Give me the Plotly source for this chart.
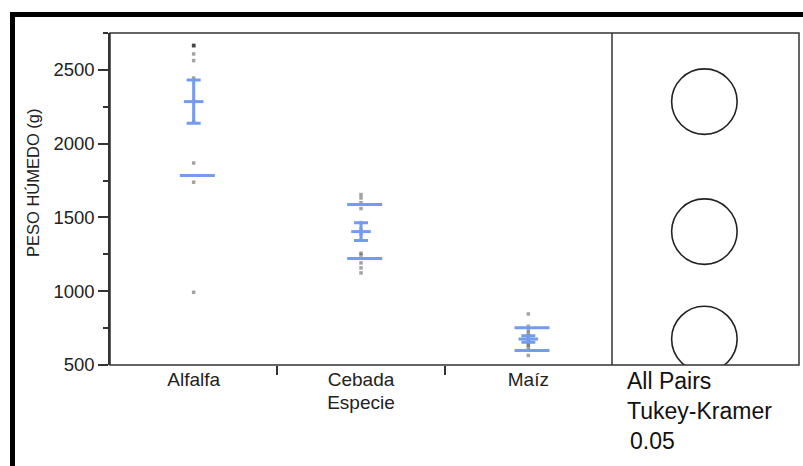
import plotly.graph_objects as go

# Peso húmedo por especie: observaciones individuales
categories = ["Alfalfa", "Cebada", "Maíz"]
alfalfa_pesos = [2665, 2665, 2665, 2665, 2608, 2563, 2445, 2290, 2150, 1869, 1739, 993]
cebada_pesos = [1655, 1632, 1600, 1560, 1465, 1420, 1385, 1345, 1258, 1245, 1192, 1158, 1124]
maiz_pesos = [846, 762, 735, 715, 700, 688, 676, 664, 650, 636, 622, 600, 565]

# Resumen por especie: media, error estándar y desviación estándar
means = [2285, 1404, 676]
std_err = [146, 60, 22]
std_dev = [501, 183, 77]

# Radio de los círculos de comparación (Tukey-Kramer, alfa 0.05), en gramos
circle_radius = [222, 222, 222]

y_ticks = [500, 1000, 1500, 2000, 2500]
y_range = [500, 2750]

W, H = 803, 466
L, R, T, B = 110, 4, 33, 101
plot_w = W - L - R
plot_h = H - T - B
split = (612 - L) / plot_w

BLUE = "rgb(115,155,242)"
FRAME = "#333333"
FONT = "Liberation Sans, Arial, Helvetica, sans-serif"


def px_x(px):
    return (px - L) / plot_w


def px_y(py):
    return (H - B - py) / plot_h


groups = [alfalfa_pesos, cebada_pesos, maiz_pesos]

fig = go.Figure()

# Puntos individuales
for i, vals in enumerate(groups):
    fig.add_trace(go.Scatter(
        x=[i] * len(vals), y=vals, mode="markers",
        marker=dict(symbol="square", size=3.5, color="rgba(50,50,50,0.45)",
                    line=dict(width=0)),
        showlegend=False, hoverinfo="y",
    ))

# Líneas de desviación estándar (media ± DE)
sd_x, sd_y = [], []
for i, (m, s) in enumerate(zip(means, std_dev)):
    sd_x += [i + 0.022, i + 0.022]
    sd_y += [m + s, m - s]
fig.add_trace(go.Scatter(
    x=sd_x, y=sd_y, mode="markers",
    marker=dict(symbol="line-ew", size=25, line=dict(width=3, color=BLUE)),
    showlegend=False, hoverinfo="y",
))

# Media con barras de error estándar
fig.add_trace(go.Scatter(
    x=list(range(len(categories))), y=means, mode="markers",
    marker=dict(symbol="line-ew", size=14, line=dict(width=3, color=BLUE)),
    error_y=dict(type="data", array=std_err, visible=True,
                 color=BLUE, thickness=3, width=7),
    showlegend=False, hoverinfo="y",
))

# Panel derecho: círculos de comparación
px_per_unit = plot_h / (y_range[1] - y_range[0])
for m, r in zip(means, circle_radius):
    r_px = r * px_per_unit
    fig.add_shape(
        type="circle", xref="x2", yref="y",
        xsizemode="pixel", xanchor=0.494, x0=-r_px, x1=r_px,
        y0=m - r, y1=m + r,
        line=dict(color="#222222", width=1.6), fillcolor="rgba(0,0,0,0)",
    )

# Marco del gráfico y divisor de paneles
fig.add_shape(type="rect", xref="paper", yref="paper", x0=0, x1=1, y0=0, y1=1,
              line=dict(color=FRAME, width=1.5))
fig.add_shape(type="line", xref="paper", yref="paper", x0=split, x1=split, y0=0, y1=1,
              line=dict(color=FRAME, width=1.5))
# Borde exterior grueso
fig.add_shape(type="rect", xref="paper", yref="paper",
              x0=px_x(12.5), x1=px_x(840), y0=px_y(520), y1=px_y(14.5),
              line=dict(color="black", width=5))

fig.update_layout(
    width=W, height=H,
    margin=dict(l=L, r=R, t=T, b=B, pad=0),
    paper_bgcolor="white", plot_bgcolor="white",
    font=dict(family=FONT, color="#222222"),
    xaxis=dict(
        domain=[0, split], range=[-0.5, 2.5],
        tickvals=list(range(len(categories))), ticktext=categories,
        ticks="", showgrid=False, zeroline=False, showline=False,
        tickfont=dict(size=19, color="#222222"),
        ticklabelstandoff=1,
        minor=dict(tickvals=[0.5, 1.5], ticks="outside", ticklen=9,
                   tickwidth=1.5, tickcolor=FRAME, showgrid=False),
        title=dict(text="Especie", font=dict(size=19, color="#222222"), standoff=6),
    ),
    xaxis2=dict(
        domain=[split, 1], range=[0, 1], anchor="y",
        visible=False, showgrid=False, zeroline=False,
    ),
    yaxis=dict(
        range=y_range, tickvals=y_ticks,
        ticks="outside", ticklen=10, tickwidth=1.5, tickcolor=FRAME,
        showline=True, linecolor=FRAME, linewidth=1.5,
        showgrid=False, zeroline=False,
        tickfont=dict(size=18.5, color="#222222"),
        minor=dict(dtick=250, tick0=500, ticks="outside", ticklen=5,
                   tickwidth=1.5, tickcolor=FRAME, showgrid=False),
    ),
    annotations=[
        dict(text="PESO HÚMEDO (g)", xref="paper", yref="paper",
             x=px_x(33), y=px_y(183), textangle=-90, showarrow=False,
             xanchor="center", yanchor="middle",
             font=dict(size=16.5, color="#222222")),
        dict(text="All Pairs", xref="paper", yref="paper",
             x=px_x(625), y=px_y(381), showarrow=False,
             xanchor="left", yanchor="middle", font=dict(size=23, color="#111111")),
        dict(text="Tukey-Kramer", xref="paper", yref="paper",
             x=px_x(625), y=px_y(410.5), showarrow=False,
             xanchor="left", yanchor="middle", font=dict(size=23, color="#111111")),
        dict(text="0.05", xref="paper", yref="paper",
             x=px_x(628), y=px_y(440.5), showarrow=False,
             xanchor="left", yanchor="middle", font=dict(size=23, color="#111111")),
    ],
)

fig.write_html("out.html")
